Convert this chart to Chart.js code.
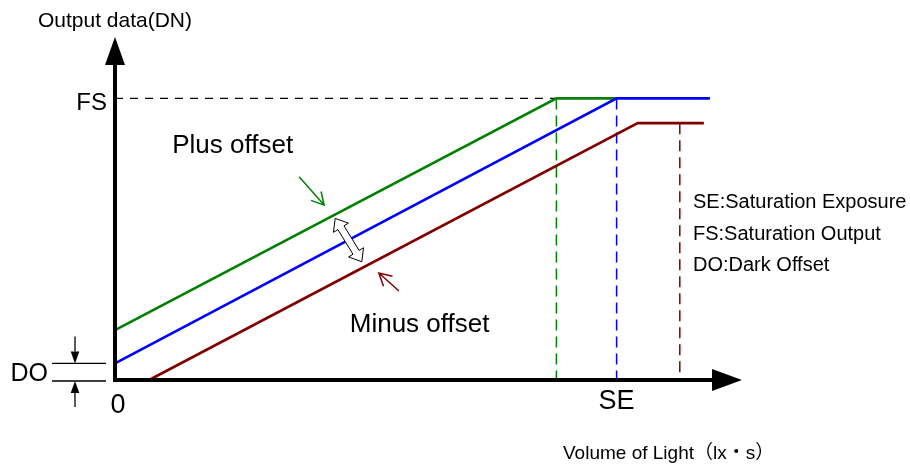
<!DOCTYPE html>
<html><head><meta charset="utf-8">
<script src="https://cdn.jsdelivr.net/npm/chart.js@4/dist/chart.umd.min.js"></script>
<style>html,body{margin:0;padding:0;background:#fff}#wrap{width:910px;height:468px}</style>
</head><body><div id="wrap"><canvas id="c" width="910" height="468"></canvas></div>
<script>
// ---- Data (x: volume of light, nominal SE = 100 ; y: output data, FS = 100) ----
const FS = 100;
const DO = 5.9;
const nominalX = [0, 100.0, 118.6];
const nominalY = [5.9, 100, 100];
const plusOffsetX = [0, 88.0, 100.0];
const plusOffsetY = [17.7, 100, 100];
const minusOffsetX = [6.8, 104.2, 117.4];
const minusOffsetY = [0, 91.2, 91.2];
const seLevels = [88.0, 100.0, 112.6];      // saturation exposure markers (plus, nominal, minus)
const seTopLevels = [100, 100, 91.2];
const xAxisMax = 125;
const yAxisMax = 121.8;
const legendLines = ['SE:Saturation Exposure', 'FS:Saturation Output', 'DO:Dark Offset'];
const axisTitleY = 'Output data(DN)';
const axisTitleX = 'Volume of Light（lx・s）';

const GREEN = '#008000', BLUE = '#0000ff', RED = '#800000';
const FONT = '"Liberation Sans", Arial, "Noto Sans CJK JP", sans-serif';
const pts = (xs, ys) => xs.map((x, i) => ({x, y: ys[i]}));

const datasets = [
  {label: 'Nominal', data: pts(nominalX, nominalY), borderColor: BLUE, borderWidth: 2.6},
  {label: 'Plus offset', data: pts(plusOffsetX, plusOffsetY), borderColor: GREEN, borderWidth: 2.6},
  {label: 'Minus offset', data: pts(minusOffsetX, minusOffsetY), borderColor: RED, borderWidth: 2.6},
  {label: 'FS', data: [{x: 0, y: FS}, {x: seLevels[0], y: FS}], borderColor: '#000', borderWidth: 1.3, borderDash: [8, 7]},
  ...seLevels.map((s, i) => ({
    label: 'SE' + i, data: [{x: s, y: seTopLevels[i]}, {x: s, y: 0}],
    borderColor: [GREEN, BLUE, RED][i], borderWidth: 1.5, borderDash: [11, 6]
  }))
].map(d => Object.assign({showLine: true, pointRadius: 0, fill: false, tension: 0, clip: false}, d));

function openArrow(ctx, x1, y1, x2, y2, color, len) {
  const a = Math.atan2(y2 - y1, x2 - x1), sp = 0.5;
  ctx.save(); ctx.strokeStyle = color; ctx.lineWidth = 1.5;
  ctx.beginPath(); ctx.moveTo(x1, y1); ctx.lineTo(x2, y2);
  ctx.moveTo(x2 - len * Math.cos(a - sp), y2 - len * Math.sin(a - sp)); ctx.lineTo(x2, y2);
  ctx.lineTo(x2 - len * Math.cos(a + sp), y2 - len * Math.sin(a + sp));
  ctx.stroke(); ctx.restore();
}
function filledArrow(ctx, x1, y1, x2, y2, len, hw) {
  const a = Math.atan2(y2 - y1, x2 - x1);
  const bx = x2 - len * Math.cos(a), by = y2 - len * Math.sin(a);
  ctx.save(); ctx.strokeStyle = '#000'; ctx.fillStyle = '#000'; ctx.lineWidth = 1.3;
  ctx.beginPath(); ctx.moveTo(x1, y1); ctx.lineTo(bx, by); ctx.stroke();
  ctx.beginPath(); ctx.moveTo(x2, y2);
  ctx.lineTo(bx + hw * Math.sin(a), by - hw * Math.cos(a));
  ctx.lineTo(bx - hw * Math.sin(a), by + hw * Math.cos(a));
  ctx.closePath(); ctx.fill(); ctx.restore();
}
function hollowDoubleArrow(ctx, x1, y1, x2, y2) {
  const dx = x2 - x1, dy = y2 - y1, L = Math.hypot(dx, dy);
  const ux = dx / L, uy = dy / L, nx = -uy, ny = ux;
  const h = 11, w = 8.8, s = 3.6;
  const P = (t, o) => [x1 + ux * t + nx * o, y1 + uy * t + ny * o];
  const poly = [P(0, 0), P(h, w), P(h, s), P(L - h, s), P(L - h, w), P(L, 0), P(L - h, -w), P(L - h, -s), P(h, -s), P(h, -w)];
  ctx.save(); ctx.beginPath();
  poly.forEach((p, i) => i ? ctx.lineTo(p[0], p[1]) : ctx.moveTo(p[0], p[1]));
  ctx.closePath(); ctx.fillStyle = '#fff'; ctx.fill();
  ctx.strokeStyle = '#000'; ctx.lineWidth = 1; ctx.stroke(); ctx.restore();
}
function text(ctx, s, x, y, size, align) {
  ctx.font = size + 'px ' + FONT; ctx.textAlign = align || 'left';
  ctx.textBaseline = 'alphabetic'; ctx.fillStyle = '#000'; ctx.fillText(s, x, y);
}

const decor = {
  id: 'decor',
  afterDatasetsDraw(chart) {
    const ctx = chart.ctx, xs = chart.scales.x, ys = chart.scales.y;
    const X = v => xs.getPixelForValue(v), Y = v => ys.getPixelForValue(v);
    const x0 = X(0), y0 = Y(0), xt = X(xAxisMax), yt = Y(yAxisMax);
    // axes
    ctx.save(); ctx.strokeStyle = '#000'; ctx.fillStyle = '#000'; ctx.lineWidth = 4; ctx.lineCap = 'butt';
    ctx.beginPath(); ctx.moveTo(x0, y0 + 2); ctx.lineTo(x0, yt + 26); ctx.stroke();
    ctx.beginPath(); ctx.moveTo(x0 - 2, y0); ctx.lineTo(xt - 28, y0); ctx.stroke();
    ctx.beginPath(); ctx.moveTo(x0, yt); ctx.lineTo(x0 - 10, yt + 28); ctx.lineTo(x0 + 10, yt + 28); ctx.closePath(); ctx.fill();
    ctx.beginPath(); ctx.moveTo(xt, y0); ctx.lineTo(xt - 30, y0 - 11); ctx.lineTo(xt - 30, y0 + 11); ctx.closePath(); ctx.fill();
    ctx.restore();
    // DO marker
    ctx.save(); ctx.strokeStyle = '#000'; ctx.lineWidth = 1.3;
    ctx.beginPath();
    ctx.moveTo(x0 - 63, Y(DO)); ctx.lineTo(x0 - 9, Y(DO));
    ctx.moveTo(x0 - 63, y0 + 1); ctx.lineTo(x0 - 9, y0 + 1);
    ctx.stroke(); ctx.restore();
    filledArrow(ctx, x0 - 40, Y(DO) - 27, x0 - 40, Y(DO), 12, 4.3);
    filledArrow(ctx, x0 - 40, y0 + 27, x0 - 40, y0 + 1, 12, 4.3);
    // annotation arrows
    openArrow(ctx, X(36.7), Y(72.2), X(41.7), Y(62.1), GREEN, 14);
    openArrow(ctx, X(56.6), Y(31.6), X(52.6), Y(38.0), RED, 14);
    hollowDoubleArrow(ctx, X(43.9), Y(57.4), X(49.2), Y(42.0));
    // texts
    text(ctx, axisTitleY, x0, yt - 10, 21, 'center');
    text(ctx, 'FS', x0 - 8, Y(FS) + 12, 24, 'right');
    text(ctx, 'DO', x0 - 67, y0 + 1, 25, 'right');
    text(ctx, '0', x0 + 3, y0 + 33, 27, 'center');
    text(ctx, 'SE', X(seLevels[1]), y0 + 29, 27, 'center');
    text(ctx, 'Plus offset', X(11.4), Y(80.6), 26, 'left');
    text(ctx, 'Minus offset', X(46.8), Y(17.0), 26, 'left');
    legendLines.forEach((s, i) => text(ctx, s, 693, 208 + i * 31.5, 20, 'left'));
    text(ctx, axisTitleX, 563, 459, 19, 'left');
  }
};

new Chart(document.getElementById('c'), {
  type: 'scatter',
  data: {datasets},
  options: {
    responsive: false, animation: false, devicePixelRatio: 1,
    layout: {padding: {left: 115, right: 168, top: 37, bottom: 88}},
    plugins: {legend: {display: false}, tooltip: {enabled: false}, title: {display: false}},
    scales: {
      x: {type: 'linear', min: 0, max: xAxisMax, display: false},
      y: {type: 'linear', min: 0, max: yAxisMax, display: false}
    }
  },
  plugins: [decor]
});
</script></body></html>
